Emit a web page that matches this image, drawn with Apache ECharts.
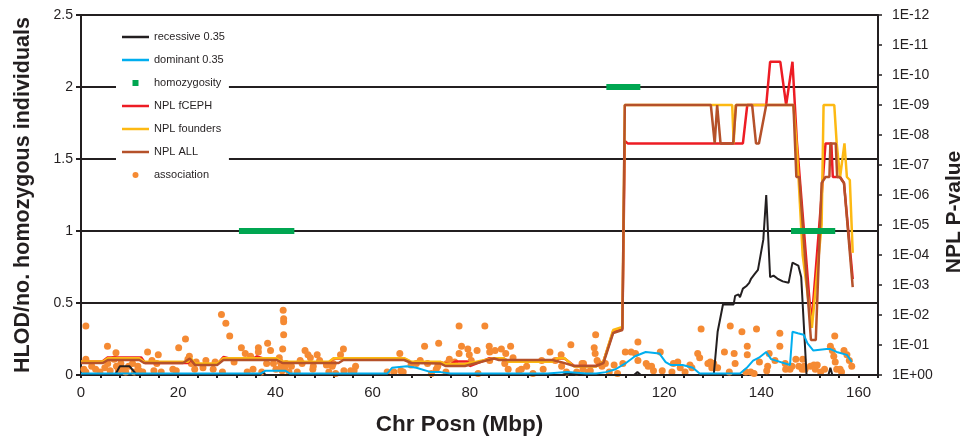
<!DOCTYPE html>
<html>
<head>
<meta charset="utf-8">
<script src="https://cdn.jsdelivr.net/npm/echarts@6/dist/echarts.min.js"></script>
<style>
body{margin:0;background:#fff;}
#chart{width:965px;height:437px;}
</style>
</head>
<body>
<div id="chart"></div>
<script>
// positions in Mbp, LOD on left axis, -log10(p) on right axis

var rec_pos = [0,7,8,10,11.5,36.8,37.4,38,99,100,103,113.8,114.5,115.2,130.2,131,132.1,134.3,134.6,135.3,135.6,136.2,137,137.5,137.9,138.6,139.3,140.4,141,141.8,142.5,143.3,144.4,145.6,146.4,146.8,147.6,148.2,149.3,153.8,154.2,154.6,160];
var rec_val = [0,0,0.06,0.06,0,0,0.02,0,0,0.01,0,0,0.02,0,0,0.3,0.49,0.49,0.55,0.56,0.54,0.6,0.62,0.64,0.67,0.7,0.73,0.94,1.25,0.68,0.69,0.67,0.65,0.64,0.78,0.78,0.76,0.68,0,0,0.05,0,0];

var dom_pos = [0,37,38,42,43,63,64,67,69,72,74,76,96,100,104,106,108,110,112,114,116.2,119,120.3,121.3,123.8,125.9,127.3,135.6,137,138.3,139.5,141,142,143,145.9,146.4,147.5,148.7,149.5,150.7,153.4,154.2,155.5,157.6,158.6];
var dom_val = [0.01,0.01,0.03,0.03,0.01,0.01,0.05,0.06,0.05,0.02,0.02,0.01,0.01,0.02,0.01,0.01,0.02,0.04,0.08,0.13,0.16,0.15,0.09,0.07,0.07,0.05,0.01,0.01,0.05,0.1,0.12,0.16,0.11,0.1,0.07,0.3,0.29,0.28,0.22,0.17,0.18,0.18,0.16,0.14,0.09];

var ceph_pos = [0,4.4,5.4,12.4,13.2,22,22.6,23.5,28,29.3,30.5,35.5,36.2,37.5,40.3,41.3,51,52,66.5,68,74,76,77,79.5,80,84,87,88,97,98,99.5,101.5,106,107.5,109.5,111.4,111.9,112.5,136.2,137.1,141,141.8,143.9,145.1,146.4,147.3,150.3,152.6,153.2,154.4,154.7,156.2,157,158.8];
var ceph_val = [0.45,0.45,0.58,0.58,0.4,0.4,0.5,0.35,0.35,0.6,0.55,0.55,0.62,0.55,0.55,0.42,0.42,0.55,0.55,0.42,0.42,0.35,0.45,0.45,0.3,0.55,0.55,0.45,0.45,0.55,0.55,0.3,0.3,0.45,1.45,1.55,7.8,7.72,7.72,9,9,10.44,10.44,9,10.44,7.8,1.67,6.4,7.72,7.72,6.6,6.6,6.4,3.2];

var fnd_pos = [0,4.5,5.5,12,13,22,22.6,23.5,28,29.3,40.3,41.3,51,52,66.5,68,74,75,79,85,87,88,97,98,99.5,101.5,106,107.5,109.5,111.4,111.9,134,134.3,134.7,146.6,147.3,148.5,150.4,152.4,152.8,155,155.5,156.2,157.1,157.6,158.2,158.8];
var fnd_val = [0.45,0.45,0.56,0.56,0.44,0.44,0.56,0.38,0.38,0.56,0.56,0.44,0.44,0.56,0.56,0.44,0.44,0.37,0.37,0.56,0.56,0.44,0.44,0.56,0.56,0.28,0.28,0.45,1.5,1.6,9,9,7.72,9,9,7.6,4,1.57,5,9,9,7.72,6.6,7.72,6.6,6.5,4.07];

var all_pos = [0,4.5,5.5,12,13,21,22.4,23.5,28,29.3,40.3,41.5,53,54,66.5,68,74,75,79,85,86,97,99,101.5,106,107.5,109.5,111.4,111.9,129.6,130.4,130.9,131.6,134.2,134.8,138.1,138.9,139.5,141,146.6,147.2,147.8,150.2,151.2,152.4,153.2,154,154.2,155.3,155.6,156.1,157,158.8];
var all_val = [0.4,0.4,0.5,0.5,0.4,0.4,0.55,0.33,0.33,0.5,0.5,0.4,0.4,0.5,0.5,0.4,0.38,0.3,0.3,0.55,0.5,0.5,0.42,0.3,0.3,0.4,1.4,1.5,9,9,7.72,9,7.72,7.72,9,9,7.72,7.72,9,9,6.6,6.6,1.17,1.17,6.4,6.6,6.6,7.72,7.72,6.6,6.6,6.4,2.93];

var homo_start = [32.5,108.1,146.1];
var homo_end = [43.9,115.1,155.2];
var homo_level = [1,2,1];

var assoc_pos = [0.6,1,1,1,2.2,3,3.9,4.9,5.45,5.5,6,6.8,7.2,7.3,7.7,8.2,8.6,9.2,9.8,10.6,11,11.7,12,12.7,13.7,14.6,15,15.6,15.9,16.5,
  18.9,19.6,20.1,21.5,22,22.3,22.7,23.4,23.7,25.1,25.7,27.2,27.6,28.9,29.1,29.8,30.6,31.5,33,33.8,34.2,34.9,35.4,36.5,36.5,37.2,38.2,38.4,39,39.6,
  40.1,40.8,41,41.2,41.4,41.5,41.6,41.7,41.7,41.7,41.9,42.2,42.8,43.3,44.5,45.1,45.5,46.1,46.7,47.2,47.7,47.8,48.6,49.1,50.5,51,51.7,51.9,
  52.4,53.4,54,54.1,55.5,56.2,56.5,63,64.4,65.6,65.8,66.3,67.9,69,69.8,70.7,71.3,72.1,73.1,73.4,73.6,75.1,75.3,75.8,76.9,77.8,77.8,78.3,79.6,79.9,
  80.3,81.5,81.7,83.1,84,84.1,84.1,85.2,86.5,87.2,87.4,87.9,88.4,88.9,90.1,90.6,91.7,93,94.8,95.1,96.5,97.6,98.8,98.9,99.9,100.8,102,103.1,103.3,103.4,
  104.4,104.8,105.6,105.8,105.9,106.2,106.6,107.2,107.9,108.7,109.7,110.4,111.5,112,113.2,114.1,114.6,114.6,116.3,116.7,117.4,117.8,119.2,119.6,121.6,121.9,122.8,123.3,124.3,125.3,
  125.7,126.9,127.3,127.6,129,129.5,129.8,130.2,130.3,131,132.4,133.4,133.6,134.4,134.6,136,136.8,137.1,137.1,137.8,138.5,139,139.6,141.1,141.3,141.6,142.8,143.8,143.8,144.9,
  145,145.9,146.3,147.1,147.7,148.4,148.5,148.8,149,150.1,150.8,151.1,151.5,152.2,153,154.2,154.6,154.9,155.1,155.2,155.5,156.2,156.5,157,157.6,158.1,158.6];
var assoc_val = [0.04,0.34,0.11,0.02,0.06,0.04,0.02,0.05,0.2,0.08,0.03,0.11,0.155,0.06,0.03,0.08,0.04,0.02,0.06,0.08,0.02,0.06,0.03,0.02,0.16,0.1,0.03,0.08,0.14,0.02,
  0.04,0.03,0.19,0.25,0.11,0.13,0.08,0.04,0.09,0.05,0.1,0.04,0.09,0.42,0.02,0.36,0.27,0.09,0.19,0.15,0.02,0.13,0.04,0.19,0.16,0.02,0.08,0.22,0.17,0.08,
  0.04,0.12,0.09,0.06,0.03,0.18,0.45,0.39,0.37,0.28,0.05,0.08,0.02,0.06,0.02,0.1,0.08,0.17,0.14,0.12,0.04,0.06,0.14,0.1,0.07,0.02,0.06,0.08,
  0.01,0.14,0.18,0.03,0.03,0.03,0.06,0.02,0.02,0.15,0.03,0.02,0.07,0.08,0.1,0.2,0.08,0.01,0.04,0.06,0.22,0.02,0.08,0.11,0.09,0.34,0.15,0.2,0.18,0.14,
  0.1,0.17,0.01,0.34,0.2,0.16,0.1,0.17,0.18,0.08,0.15,0.04,0.2,0.12,0.03,0.04,0.06,0.01,0.1,0.04,0.16,0.1,0.14,0.06,0.02,0.21,0.02,0.08,0.04,0.08,
  0.02,0.03,0.19,0.15,0.28,0.1,0.08,0.06,0.08,0.02,0.07,0.01,0.08,0.16,0.16,0.15,0.23,0.1,0.08,0.06,0.06,0.03,0.16,0.03,0.02,0.08,0.09,0.05,0.02,0.07,
  0.05,0.15,0.12,0.32,0.08,0.09,0.05,0.08,0.05,0.05,0.16,0.02,0.34,0.15,0.08,0.3,0.02,0.2,0.14,0.02,0.01,0.32,0.09,0.03,0.06,0.15,0.1,0.29,0.2,0.08,
  0.04,0.04,0.06,0.11,0.06,0.04,0.11,0.06,0.04,0.06,0.07,0.04,0.07,0.02,0.04,0.2,0.17,0.13,0.27,0.09,0.04,0.04,0.02,0.17,0.14,0.1,0.06];

var p_ticks = ['1E+00','1E-01','1E-02','1E-03','1E-04','1E-05','1E-06','1E-07','1E-08','1E-09','1E-10','1E-11','1E-12'];

var ink = '#231f20';
var font = 'Liberation Sans';
// legend icons: the leading moveTo points pin the icon box to 27x14
var lineIcon = 'path://M0,0M27,14M0,5.75h27v2.5h-27z';

function zip(xs, ys){
	var out = [];
	for(var i=0;i<xs.length;i++){
		out.push([xs[i], ys[i]]);
	}
	return out;
}

function homoData(){
	var out = [];
	for(var i=0;i<homo_start.length;i++){
		out.push([homo_start[i], homo_level[i]]);
		out.push([homo_end[i], homo_level[i]]);
		out.push([homo_end[i], '-']);
	}
	return out;
}

function lineSeries(name, xs, ys, color, width, axis){
	return {
		name:name, type:'line', yAxisIndex:axis, symbol:'none',
		lineStyle:{color:color, width:width}, itemStyle:{color:color},
		data:zip(xs, ys)
	};
}

var chart = echarts.init(document.getElementById('chart'));
var option = {
	animation:false,
	textStyle:{fontFamily:font, color:ink},
	grid:{left:81, right:87, top:15, bottom:62, outerBoundsMode:'none', containLabel:false},
	legend:{
		orient:'vertical', left:116, top:24, padding:[6,4,10,6],
		backgroundColor:'#fff', itemGap:9, itemWidth:27, itemHeight:14,
		selectedMode:false,
		textStyle:{fontSize:11, color:ink, fontFamily:font},
		data:[
			{name:'recessive 0.35', icon:lineIcon},
			{name:'dominant 0.35', icon:lineIcon},
			{name:'homozygosity', icon:'path://M0,0M27,14M10.5,4h6v6h-6z'},
			{name:'NPL fCEPH', icon:lineIcon},
			{name:'NPL founders', icon:lineIcon},
			{name:'NPL ALL', icon:lineIcon},
			{name:'association', icon:'path://M0,0M27,14M10.5,7a3,3 0 1,0 6,0a3,3 0 1,0 -6,0z'}
		]
	},
	xAxis:{
		type:'value', min:0, max:164, interval:4,
		name:'Chr Posn (Mbp)', nameLocation:'middle', nameGap:38,
		nameTextStyle:{fontSize:22.5, fontWeight:'bold', color:ink, fontFamily:font, padding:[0,40,0,0]},
		axisLine:{lineStyle:{color:ink, width:2}},
		axisTick:{length:3, lineStyle:{color:ink, width:2}},
		axisLabel:{fontSize:15, color:ink, margin:10, formatter:function(v){ return v%20===0 ? String(v) : ''; }},
		splitLine:{show:false}
	},
	yAxis:[{
		type:'value', min:0, max:2.5, interval:0.5,
		name:'HLOD/no. homozygous individuals', nameLocation:'middle', nameGap:47,
		nameTextStyle:{fontSize:21.5, fontWeight:'bold', color:ink, fontFamily:font},
		axisLine:{show:true, lineStyle:{color:ink, width:2}},
		axisTick:{show:true, length:5, lineStyle:{color:ink, width:2}},
		axisLabel:{fontSize:14, color:ink, margin:8},
		splitLine:{show:true, lineStyle:{color:ink, width:2}}
	},{
		type:'value', position:'right', min:0, max:12, interval:1,
		name:'NPL P-value', nameLocation:'middle', nameGap:64, nameRotate:90,
		nameTextStyle:{fontSize:21, fontWeight:'bold', color:ink, fontFamily:font, padding:[0,34,0,0]},
		axisLine:{show:true, lineStyle:{color:ink, width:2}},
		axisTick:{show:true, length:4, lineStyle:{color:ink, width:1.5}},
		axisLabel:{fontSize:14, color:ink, margin:14, formatter:function(v){ return p_ticks[v]; }},
		splitLine:{show:false}
	}],
	series:[
		lineSeries('recessive 0.35', rec_pos, rec_val, ink, 2, 0),
		lineSeries('dominant 0.35', dom_pos, dom_val, '#00aeef', 2, 0),
		lineSeries('NPL fCEPH', ceph_pos, ceph_val, '#ed1c24', 2.5, 1),
		lineSeries('NPL founders', fnd_pos, fnd_val, '#fdb913', 2.5, 1),
		lineSeries('NPL ALL', all_pos, all_val, '#b5512a', 2.5, 1),
		{
			name:'homozygosity', type:'line', yAxisIndex:0, symbol:'none',
			lineStyle:{color:'#00a651', width:6, cap:'butt'}, itemStyle:{color:'#00a651'},
			data:homoData()
		},
		{
			name:'association', type:'scatter', yAxisIndex:0, symbolSize:7,
			itemStyle:{color:'#f58a33', opacity:1},
			data:zip(assoc_pos, assoc_val)
		}
	]
};
chart.setOption(option);
</script>
</body>
</html>
